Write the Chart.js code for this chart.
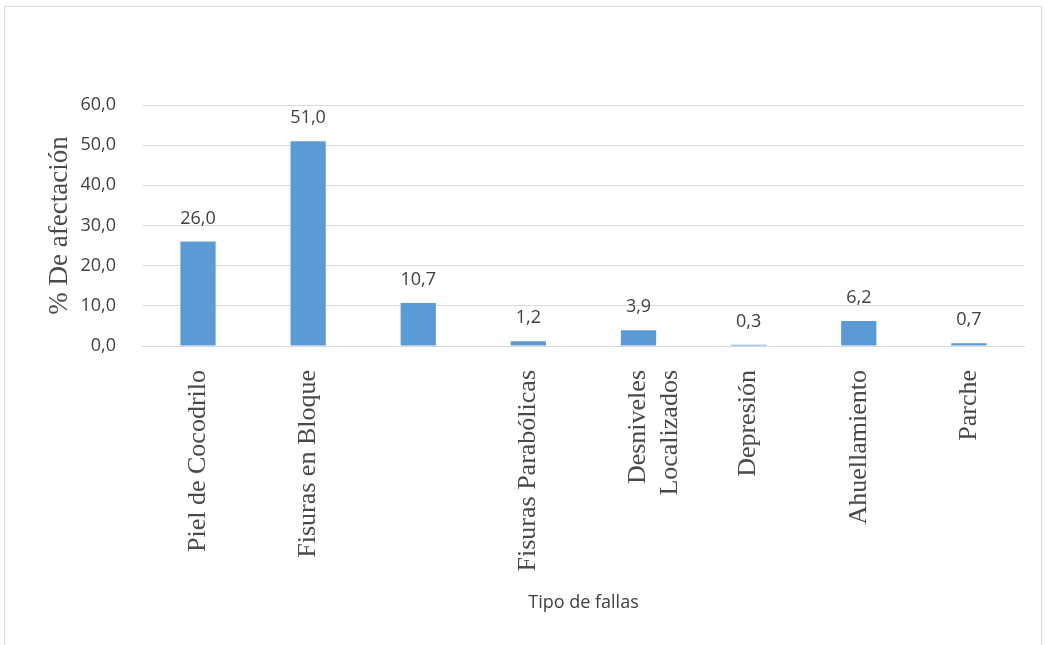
<!DOCTYPE html>
<html>
<head>
<meta charset="utf-8">
<script src="https://cdn.jsdelivr.net/npm/chart.js@4/dist/chart.umd.min.js"></script>
<style>
  html, body { margin: 0; padding: 0; background: #fff; }
  #frame {
    position: absolute; left: 4px; top: 6px; width: 1036px; height: 645px;
    border: 1px solid #d9d9d9; border-bottom: none;
  }
  #wrap { position: absolute; left: 0; top: 0; width: 1046px; height: 645px; }
</style>
</head>
<body>
<div id="frame"></div>
<div id="wrap"><canvas id="chart"></canvas></div>
<script>
const categories = [
  'Piel de Cocodrilo',
  'Fisuras en Bloque',
  '',
  'Fisuras Parabólicas',
  ['Desniveles', 'Localizados'],
  'Depresión',
  'Ahuellamiento',
  'Parche'
]
const afectacion = [26.0, 51.0, 10.7, 1.2, 3.9, 0.3, 6.2, 0.7]
const yTicks = [0, 10, 20, 30, 40, 50, 60]

const fmt = v => v.toFixed(1).replace('.', ',')

// etiquetas de valor sobre cada barra
const valueLabels = {
  id: 'valueLabels',
  afterDatasetsDraw(chart) {
    const ctx = chart.ctx
    const meta = chart.getDatasetMeta(0)
    ctx.save()
    ctx.font = '18px "Open Sans", sans-serif'
    ctx.fillStyle = '#404040'
    ctx.textAlign = 'center'
    ctx.textBaseline = 'bottom'
    meta.data.forEach((bar, i) => {
      ctx.fillText(fmt(afectacion[i]), bar.x, bar.y - 14)
    })
    ctx.restore()
  }
}

new Chart(document.querySelector('#chart'), {
  type: 'bar',
  data: {
    labels: categories,
    datasets: [{
      data: afectacion,
      backgroundColor: '#5b9bd5',
      barPercentage: 0.32,
      categoryPercentage: 1
    }]
  },
  options: {
    responsive: true,
    maintainAspectRatio: false,
    animation: false,
    layout: { padding: { top: 105, left: 44, right: 22, bottom: 27 } },
    plugins: {
      legend: { display: false },
      tooltip: { enabled: false }
    },
    scales: {
      x: {
        // las etiquetas largas necesitan mas de la mitad del alto
        afterFit: axis => { axis.height = 272 },
        grid: { display: false },
        border: { color: '#d9d9d9' },
        ticks: {
          maxRotation: 90,
          minRotation: 90,
          autoSkip: false,
          padding: 16,
          color: '#4a4a4a',
          font: { family: '"Liberation Serif", serif', size: 26 }
        },
        title: {
          display: true,
          text: 'Tipo de fallas',
          color: '#404040',
          padding: { top: 6 },
          font: { family: '"Open Sans", sans-serif', size: 18 }
        }
      },
      y: {
        min: 0,
        max: 60,
        afterBuildTicks: axis => { axis.ticks = yTicks.map(v => ({ value: v })) },
        grid: { color: '#d9d9d9', drawTicks: true, tickLength: 24, tickColor: 'transparent' },
        border: { display: false },
        ticks: {
          padding: 3,
          color: '#404040',
          callback: v => fmt(v),
          font: { family: '"Open Sans", sans-serif', size: 18 }
        },
        title: {
          display: true,
          text: '% De afectación',
          color: '#4a4a4a',
          padding: { top: 0, bottom: 1 },
          font: { family: '"Liberation Serif", serif', size: 27 }
        }
      }
    }
  },
  plugins: [valueLabels]
})
</script>
</body>
</html>
